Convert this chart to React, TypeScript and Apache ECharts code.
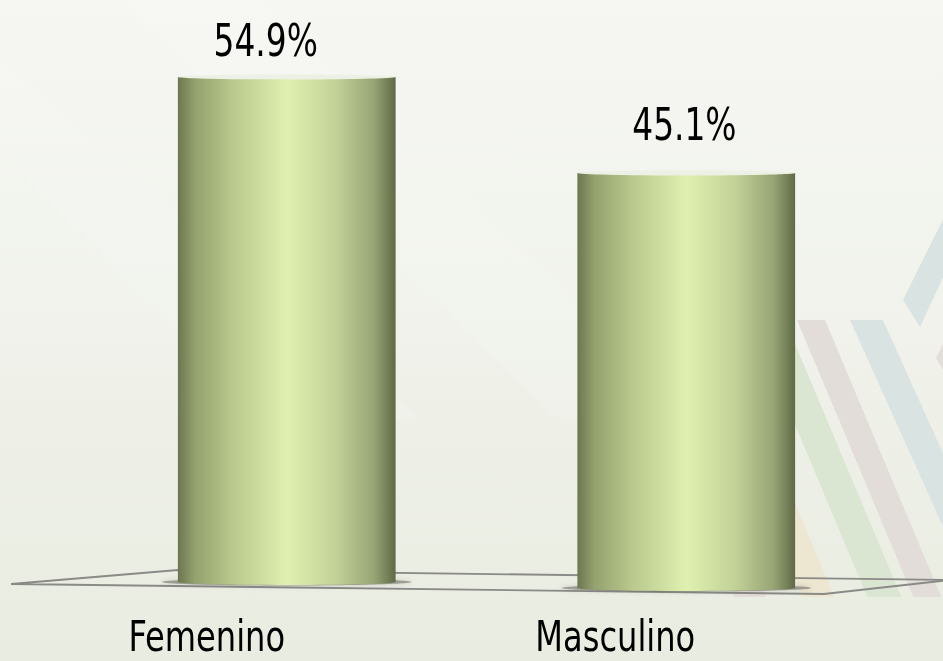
import React, { useEffect, useRef } from "react";
import * as echarts from "echarts";

const categories = ["Femenino", "Masculino"];
const values = [54.9, 45.1];

const FONT = "'Liberation Sans Narrow', 'Arial Narrow', 'DejaVu Sans Condensed', 'DejaVu Sans', sans-serif";

// stripe decoration (background, "\" direction)
function stripe(x0: number, w: number, yTop: number, yBot: number, slope: number, fill: string) {
  const dx = (yBot - yTop) * slope;
  return {
    type: "polygon",
    z: -5,
    silent: true,
    shape: { points: [[x0, yTop], [x0 + w, yTop], [x0 + w + dx, yBot], [x0 + dx, yBot]] },
    style: { fill },
  };
}

export default function App() {
  const ref = useRef<HTMLDivElement>(null);

  useEffect(() => {
    if (!ref.current) return;
    const chart = echarts.init(ref.current, undefined, { renderer: "svg" });

    const barGrad = () =>
      new echarts.graphic.LinearGradient(0, 0, 1, 0, [
        { offset: 0, color: "#6c774f" },
        { offset: 0.08, color: "#94a26f" },
        { offset: 0.25, color: "#b9c88c" },
        { offset: 0.5, color: "#dff0b0" },
        { offset: 0.72, color: "#c3d398" },
        { offset: 0.9, color: "#97a575" },
        { offset: 1, color: "#5f6a46" },
      ]);

    const persp = (x: number) => (x - 287) * 0.015;

    const option: any = {
      animation: false,
      backgroundColor: "transparent",
      grid: { left: 87, right: 57, top: 30, bottom: 79, containLabel: false },
      xAxis: {
        type: "category",
        data: categories,
        show: false,
      },
      yAxis: { type: "value", min: 0, max: 60, show: false },
      graphic: [
        {
          type: "rect",
          z: -10,
          silent: true,
          shape: { x: 0, y: 0, width: 943, height: 661 },
          style: {
            fill: new echarts.graphic.LinearGradient(0, 0, 0, 1, [
              { offset: 0, color: "#f6f7f3" },
              { offset: 0.5, color: "#f0f2eb" },
              { offset: 1, color: "#e9ece0" },
            ]),
          },
        },
        {
          type: "polygon",
          z: -9,
          silent: true,
          shape: { points: [[0, 60], [0, 150], [260, 420], [420, 420]] },
          style: { fill: "rgba(255,255,255,0.12)" },
        },
        {
          type: "polygon",
          z: -9,
          silent: true,
          shape: { points: [[120, 0], [260, 0], [700, 420], [560, 420]] },
          style: { fill: "rgba(255,255,255,0.1)" },
        },
        stripe(618, 32, 320, 597, 0.42, "#e3ddd9"),
        stripe(686, 32, 320, 597, 0.42, "#ede6d0"),
        stripe(751, 34, 320, 597, 0.42, "#dbe6d2"),
        stripe(797, 28, 320, 597, 0.42, "#e3ddd9"),
        stripe(850, 33, 320, 597, 0.45, "#d9e4e2"),
        {
          type: "polygon",
          z: -5,
          silent: true,
          shape: { points: [[903, 300], [950, 205], [950, 262], [920, 327]] },
          style: { fill: "#d9e4e2" },
        },
        {
          type: "polygon",
          z: -5,
          silent: true,
          shape: { points: [[936, 358], [948, 334], [948, 378]] },
          style: { fill: "#e3ddd9" },
        },
        {
          type: "polygon",
          z: 1,
          silent: true,
          shape: { points: [[11, 584], [178, 570], [950, 580], [824, 594]] },
          style: { fill: "none", stroke: "#8a8a86", lineWidth: 1.8 },
        },
      ],
      series: [
        {
          type: "custom",
          z: 5,
          data: values.map((v, i) => [i, v]),
          encode: { x: 0, y: 1 },
          renderItem: (params: any, api: any) => {
            const idx = api.value(0);
            const val = api.value(1);
            const top = api.coord([idx, val]);
            const base = api.coord([idx, 0]);
            const band = api.size([1, 0])[0];
            const w = band * 0.545;
            const cx = top[0];
            const dy = persp(cx);
            const topY = top[1] + dy;
            const baseY = base[1] + dy;
            const lblDx = -21 + (cx - 287) * 0.048;
            const lblGap = 14 + (cx - 287) * 0.03;
            const catDx = -80 + (cx - 287) * 0.0226;
            const catY = 636 + (cx - 287) * 0.002;
            return {
              type: "group",
              children: [
                {
                  type: "ellipse",
                  shape: { cx, cy: baseY, rx: w / 2 + 16, ry: 3.5 },
                  style: { fill: "rgba(95,95,85,0.5)", shadowBlur: 4, shadowColor: "rgba(80,80,70,0.5)" },
                },
                {
                  type: "ellipse",
                  shape: { cx, cy: baseY, rx: w / 2, ry: 3 },
                  style: { fill: barGrad() },
                },
                {
                  type: "rect",
                  shape: { x: cx - w / 2, y: topY, width: w, height: baseY - topY },
                  style: { fill: barGrad() },
                },
                {
                  type: "ellipse",
                  shape: { cx, cy: topY, rx: w / 2, ry: 2.5 },
                  style: { fill: "#edf0e4" },
                },
                {
                  type: "text",
                  x: cx + lblDx,
                  y: topY - lblGap,
                  scaleX: 0.83,
                  style: {
                    x: 0,
                    y: 0,
                    text: val.toFixed(1) + "%",
                    fill: "#000",
                    font: `44px ${FONT}`,
                    align: "center",
                    verticalAlign: "bottom",
                  },
                },
                {
                  type: "text",
                  x: cx + catDx,
                  y: catY,
                  scaleX: 0.85,
                  style: {
                    x: 0,
                    y: 0,
                    text: categories[idx],
                    fill: "#000",
                    font: `42px ${FONT}`,
                    lineHeight: 40,
                    align: "center",
                    verticalAlign: "middle",
                  },
                },
              ],
            };
          },
        },
      ],
    };

    chart.setOption(option);
    return () => chart.dispose();
  }, []);

  return <div ref={ref} style={{ width: 943, height: 661, position: "fixed", left: 0, top: 0 }} />;
}
